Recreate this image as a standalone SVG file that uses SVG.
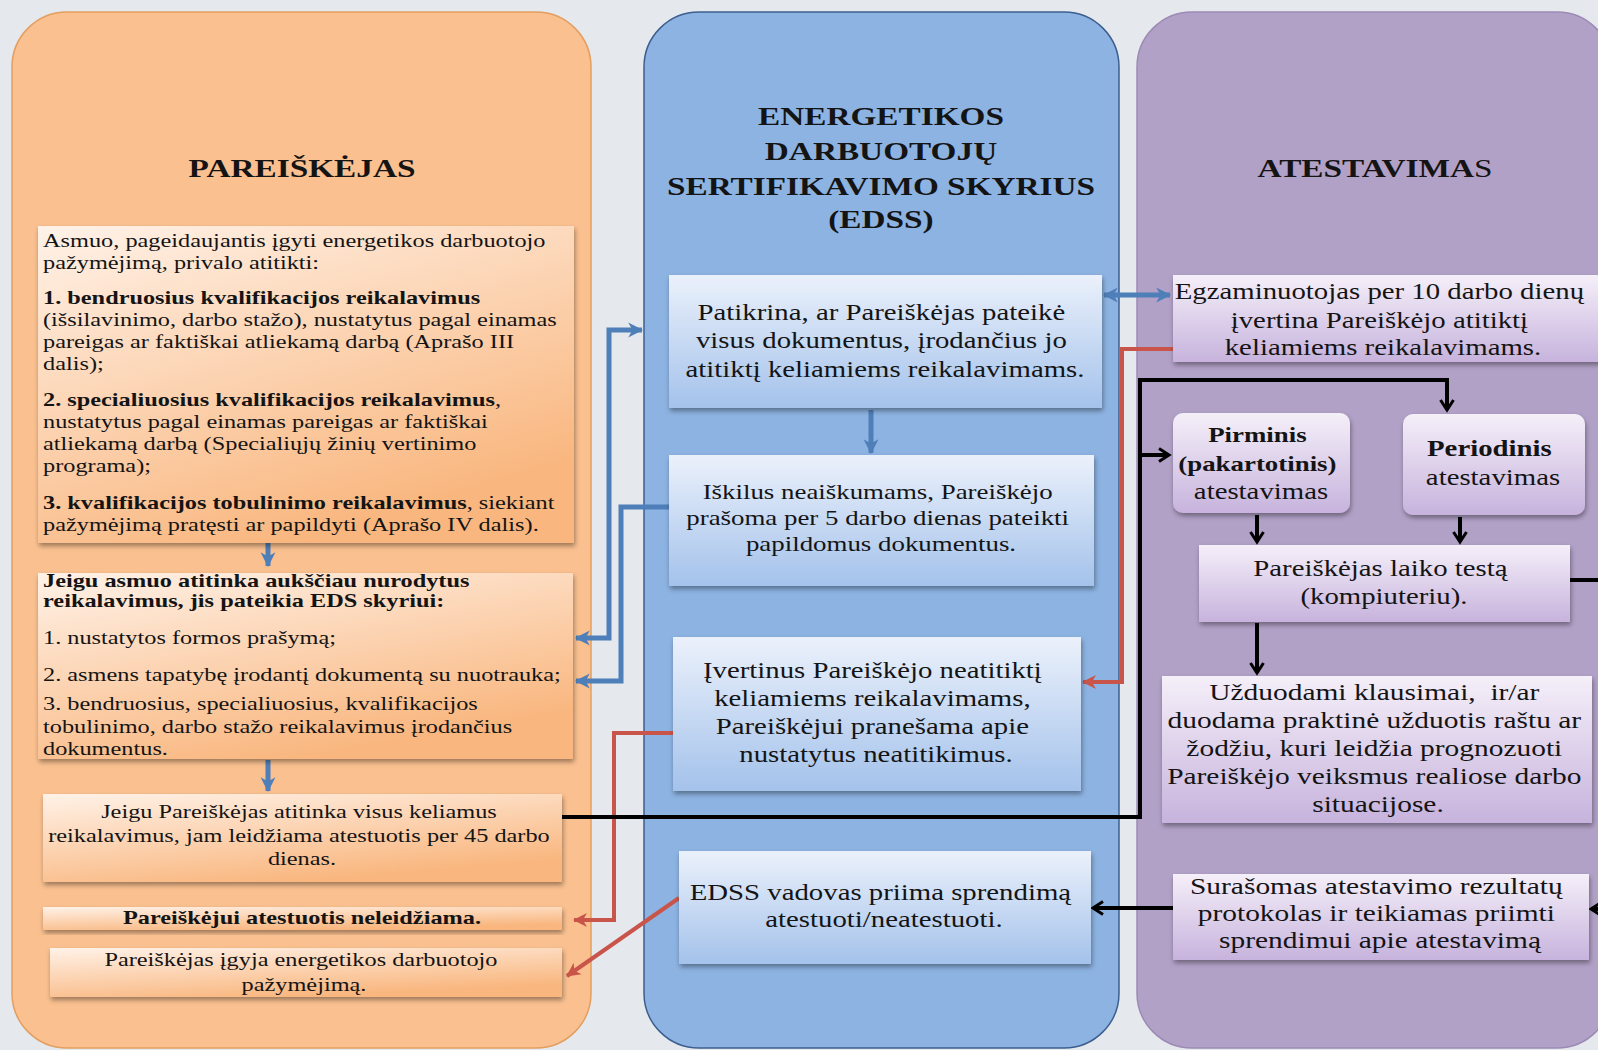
<svg xmlns="http://www.w3.org/2000/svg" width="1598" height="1050" viewBox="0 0 1598 1050">
<style>
text{font-family:"Liberation Serif","Times New Roman",serif;fill:#141414}
.t{font-size:26px;font-weight:bold}
.b19{font-size:19px}
.b22{font-size:22.5px}
.b21{font-size:21px}
.b23{font-size:23px}
.bd{font-weight:bold}
.nb{font-weight:normal}
.bl{fill:none;stroke:#4f7fb8;stroke-width:5}
.rd{fill:none;stroke:#c9554a;stroke-width:4}
.bk{fill:none;stroke:#000;stroke-width:4}
</style>
<defs>
<linearGradient id="gO" x1="0" y1="0" x2="0.5" y2="1"><stop offset="0" stop-color="#fff2e8"/><stop offset="1" stop-color="#f9b67e"/></linearGradient>
<linearGradient id="gB" x1="0" y1="0" x2="0" y2="1"><stop offset="0" stop-color="#ebf1fb"/><stop offset="1" stop-color="#a4c2eb"/></linearGradient>
<linearGradient id="gP" x1="0" y1="0" x2="0" y2="1"><stop offset="0" stop-color="#f5eff9"/><stop offset="1" stop-color="#c7b3dd"/></linearGradient>
<filter id="sh" x="-5%" y="-10%" width="110%" height="130%"><feDropShadow dx="1" dy="3" stdDeviation="2.5" flood-color="#000" flood-opacity="0.38"/></filter>
<marker id="mB" viewBox="0 0 16 16" markerWidth="17" markerHeight="17" refX="14" refY="8" orient="auto-start-reverse" markerUnits="userSpaceOnUse"><path d="M1,1 L15,8 L1,15 L5,8 z" fill="#4f7fb8"/></marker>
<marker id="mR" viewBox="0 0 16 16" markerWidth="16" markerHeight="16" refX="14" refY="8" orient="auto-start-reverse" markerUnits="userSpaceOnUse"><path d="M1,1 L15,8 L1,15 L5,8 z" fill="#c9554a"/></marker>
<marker id="mK" viewBox="0 0 16 16" markerWidth="16" markerHeight="16" refX="13" refY="8" orient="auto" markerUnits="userSpaceOnUse"><path d="M3,1.5 L13,8 L3,14.5" fill="none" stroke="#000" stroke-width="3"/></marker>
</defs>
<rect x="0" y="0" width="1598" height="1050" fill="#e5e9ed"/>

<g id="panel-pareiskejas">
<rect x="12" y="12" width="579" height="1036" rx="55" fill="#fac090" stroke="#e39e60" stroke-width="1.5"/>
<text class="t" text-anchor="middle" transform="translate(302,0) scale(1.28,1)"><tspan x="0" y="177">PAREIŠKĖJAS</tspan></text>
</g>
<g id="panel-edss">
<rect x="644" y="12" width="475" height="1036" rx="55" fill="#8db3e2" stroke="#3c5f8f" stroke-width="1.5"/>
<text class="t" text-anchor="middle" transform="translate(881,0) scale(1.28,1)"><tspan x="0" y="125">ENERGETIKOS</tspan><tspan x="0" y="160">DARBUOTOJŲ</tspan><tspan x="0" y="195">SERTIFIKAVIMO SKYRIUS</tspan><tspan x="0" y="228">(EDSS)</tspan></text>
</g>
<g id="panel-atestavimas">
<rect x="1137" y="12" width="475" height="1036" rx="55" fill="#b2a1c7" stroke="#9c8ab5" stroke-width="1.5"/>
<text class="t" text-anchor="middle" transform="translate(1375,0) scale(1.28,1)"><tspan x="0" y="177">ATESTAVIMA<tspan class="nb">S</tspan></tspan></text>
</g>

<g id="connectors">
<path class="bl" d="M576,638 H609 V330 H642" marker-start="url(#mB)" marker-end="url(#mB)"/>
<path class="bl" d="M669,507 H621 V681 H576" marker-end="url(#mB)"/>
<path class="bl" d="M268,543 V566" marker-end="url(#mB)"/>
<path class="bl" d="M268,760 V791" marker-end="url(#mB)"/>
<path class="bl" d="M871,410 V453" marker-end="url(#mB)"/>
<path class="bl" d="M1104,295 H1170" marker-start="url(#mB)" marker-end="url(#mB)"/>
<path class="rd" d="M1173,349 H1122 V682 H1083" marker-end="url(#mR)"/>
<path class="rd" d="M673,733 H614 V920 H574" marker-end="url(#mR)"/>
<path class="rd" d="M679,898 L567,976" marker-end="url(#mR)"/>
<path class="bk" d="M561,817 H1140 V380 H1447 V410" marker-end="url(#mK)"/>
<path class="bk" d="M1140,455 H1169" marker-end="url(#mK)"/>
<path class="bk" d="M1257,515 V542" marker-end="url(#mK)"/>
<path class="bk" d="M1460,517 V542" marker-end="url(#mK)"/>
<path class="bk" d="M1257,623 V673" marker-end="url(#mK)"/>
<path class="bk" d="M1570,580 H1620 V909 H1591" marker-end="url(#mK)"/>
<path class="bk" d="M1173,908 H1093" marker-end="url(#mK)"/>
</g>

<g id="node-asmuo">
<rect x="38" y="226" width="536" height="317" fill="url(#gO)" filter="url(#sh)"/>
<text class="b19" transform="translate(43,0) scale(1.28,1)">
<tspan x="0" y="247">Asmuo, pageidaujantis įgyti energetikos darbuotojo</tspan>
<tspan x="0" y="269">pažymėjimą, privalo atitikti:</tspan>
<tspan x="0" y="304" class="bd">1. bendruosius kvalifikacijos reikalavimus</tspan>
<tspan x="0" y="326">(išsilavinimo, darbo stažo), nustatytus pagal einamas</tspan>
<tspan x="0" y="348">pareigas ar faktiškai atliekamą darbą (Aprašo III</tspan>
<tspan x="0" y="370">dalis);</tspan>
<tspan x="0" y="406" class="bd">2. specialiuosius kvalifikacijos reikalavimus</tspan><tspan>,</tspan>
<tspan x="0" y="428">nustatytus pagal einamas pareigas ar faktiškai</tspan>
<tspan x="0" y="450">atliekamą darbą (Specialiųjų žinių vertinimo</tspan>
<tspan x="0" y="472">programa);</tspan>
<tspan x="0" y="509" class="bd">3. kvalifikacijos tobulinimo reikalavimus</tspan><tspan>, siekiant</tspan>
<tspan x="0" y="531">pažymėjimą pratęsti ar papildyti (Aprašo IV dalis).</tspan>
</text>
</g>
<g id="node-pateikia">
<rect x="38" y="573" width="535" height="186" fill="url(#gO)" filter="url(#sh)"/>
<text class="b19" transform="translate(43,0) scale(1.28,1)">
<tspan x="0" y="587" class="bd">Jeigu asmuo atitinka aukščiau nurodytus</tspan>
<tspan x="0" y="607" class="bd">reikalavimus, jis pateikia EDS skyriui:</tspan>
<tspan x="0" y="644">1. nustatytos formos prašymą;</tspan>
<tspan x="0" y="681">2. asmens tapatybę įrodantį dokumentą su nuotrauka;</tspan>
<tspan x="0" y="710">3. bendruosius, specialiuosius, kvalifikacijos</tspan>
<tspan x="0" y="733">tobulinimo, darbo stažo reikalavimus įrodančius</tspan>
<tspan x="0" y="755">dokumentus.</tspan>
</text>
</g>
<g id="node-leidziama">
<rect x="43" y="794" width="519" height="88" fill="url(#gO)" filter="url(#sh)"/>
<text class="b19" text-anchor="middle" transform="translate(302,0) scale(1.28,1)">
<tspan x="0" y="818">Jeigu Pareiškėjas atitinka visus keliamus</tspan>
<tspan x="0" y="842">reikalavimus, jam leidžiama atestuotis per 45 darbo</tspan>
<tspan x="0" y="865">dienas.</tspan>
</text>
</g>
<g id="node-neleidziama">
<rect x="43" y="907" width="519" height="23" fill="url(#gO)" filter="url(#sh)"/>
<text class="b19 bd" text-anchor="middle" transform="translate(302,0) scale(1.28,1)"><tspan x="0" y="924">Pareiškėjui atestuotis neleidžiama.</tspan></text>
</g>
<g id="node-igyja">
<rect x="50" y="948" width="512" height="49" fill="url(#gO)" filter="url(#sh)"/>
<text class="b19" text-anchor="middle" transform="translate(304,0) scale(1.28,1)">
<tspan x="0" y="966">Pareiškėjas įgyja energetikos darbuotojo</tspan>
<tspan x="0" y="991">pažymėjimą.</tspan>
</text>
</g>

<g id="node-patikrina">
<rect x="669" y="275" width="433" height="133" fill="url(#gB)" filter="url(#sh)"/>
<text class="b22" text-anchor="middle" transform="translate(885,0) scale(1.28,1)">
<tspan x="0" y="320">Patikrina, ar Pareiškėjas pateikė</tspan>
<tspan x="0" y="348">visus dokumentus, įrodančius jo</tspan>
<tspan x="0" y="377">atitiktį keliamiems reikalavimams.</tspan>
</text>
</g>
<g id="node-iskilus">
<rect x="669" y="455" width="425" height="131" fill="url(#gB)" filter="url(#sh)"/>
<text class="b21" text-anchor="middle" transform="translate(881,0) scale(1.28,1)">
<tspan x="0" y="499">Iškilus neaiškumams, Pareiškėjo</tspan>
<tspan x="0" y="525">prašoma per 5 darbo dienas pateikti</tspan>
<tspan x="0" y="551">papildomus dokumentus.</tspan>
</text>
</g>
<g id="node-ivertinus">
<rect x="673" y="637" width="408" height="154" fill="url(#gB)" filter="url(#sh)"/>
<text class="b22" text-anchor="middle" transform="translate(876,0) scale(1.28,1)">
<tspan x="0" y="678">Įvertinus Pareiškėjo neatitiktį</tspan>
<tspan x="0" y="706">keliamiems reikalavimams,</tspan>
<tspan x="0" y="734">Pareiškėjui pranešama apie</tspan>
<tspan x="0" y="762">nustatytus neatitikimus.</tspan>
</text>
</g>
<g id="node-vadovas">
<rect x="679" y="851" width="412" height="113" fill="url(#gB)" filter="url(#sh)"/>
<text class="b22" text-anchor="middle" transform="translate(884,0) scale(1.28,1)">
<tspan x="0" y="900">EDSS vadovas priima sprendimą</tspan>
<tspan x="0" y="927">atestuoti/neatestuoti.</tspan>
</text>
</g>

<g id="node-egzaminuotojas">
<rect x="1173" y="275" width="440" height="87" fill="url(#gP)" filter="url(#sh)"/>
<text class="b22" text-anchor="middle" transform="translate(1383,0) scale(1.28,1)">
<tspan x="0" y="299">Egzaminuotojas per 10 darbo dienų</tspan>
<tspan x="0" y="328">įvertina Pareiškėjo atitiktį</tspan>
<tspan x="0" y="355">keliamiems reikalavimams.</tspan>
</text>
</g>
<g id="node-pirminis">
<rect x="1173" y="413" width="177" height="100" rx="10" fill="url(#gP)" filter="url(#sh)"/>
<text class="b22" text-anchor="middle" transform="translate(1261,0) scale(1.28,1)">
<tspan x="0" y="442" class="bd" style="font-size:21px">Pirminis</tspan>
<tspan x="0" y="471" class="bd" style="font-size:21px">(pakartotinis)</tspan>
<tspan x="0" y="499">atestavimas</tspan>
</text>
</g>
<g id="node-periodinis">
<rect x="1403" y="414" width="182" height="101" rx="10" fill="url(#gP)" filter="url(#sh)"/>
<text class="b22" text-anchor="middle" transform="translate(1493,0) scale(1.28,1)">
<tspan x="0" y="456" class="bd">Periodinis</tspan>
<tspan x="0" y="485">atestavimas</tspan>
</text>
</g>
<g id="node-testas">
<rect x="1199" y="545" width="371" height="77" fill="url(#gP)" filter="url(#sh)"/>
<text class="b22" text-anchor="middle" transform="translate(1384,0) scale(1.28,1)">
<tspan x="0" y="576">Pareiškėjas laiko testą</tspan>
<tspan x="0" y="604">(kompiuteriu).</tspan>
</text>
</g>
<g id="node-klausimai">
<rect x="1162" y="676" width="430" height="147" fill="url(#gP)" filter="url(#sh)"/>
<text class="b23" text-anchor="middle" transform="translate(1378,0) scale(1.28,1)">
<tspan x="0" y="700">Užduodami klausimai,&#160; ir/ar</tspan>
<tspan x="0" y="728">duodama praktinė užduotis raštu ar</tspan>
<tspan x="0" y="756">žodžiu, kuri leidžia prognozuoti</tspan>
<tspan x="0" y="784">Pareiškėjo veiksmus realiose darbo</tspan>
<tspan x="0" y="812">situacijose.</tspan>
</text>
</g>
<g id="node-protokolas">
<rect x="1173" y="874" width="416" height="86" fill="url(#gP)" filter="url(#sh)"/>
<text class="b23" text-anchor="middle" transform="translate(1380,0) scale(1.28,1)">
<tspan x="0" y="894">Surašomas atestavimo rezultatų</tspan>
<tspan x="0" y="921">protokolas ir teikiamas priimti</tspan>
<tspan x="0" y="948">sprendimui apie atestavimą</tspan>
</text>
</g>
</svg>
